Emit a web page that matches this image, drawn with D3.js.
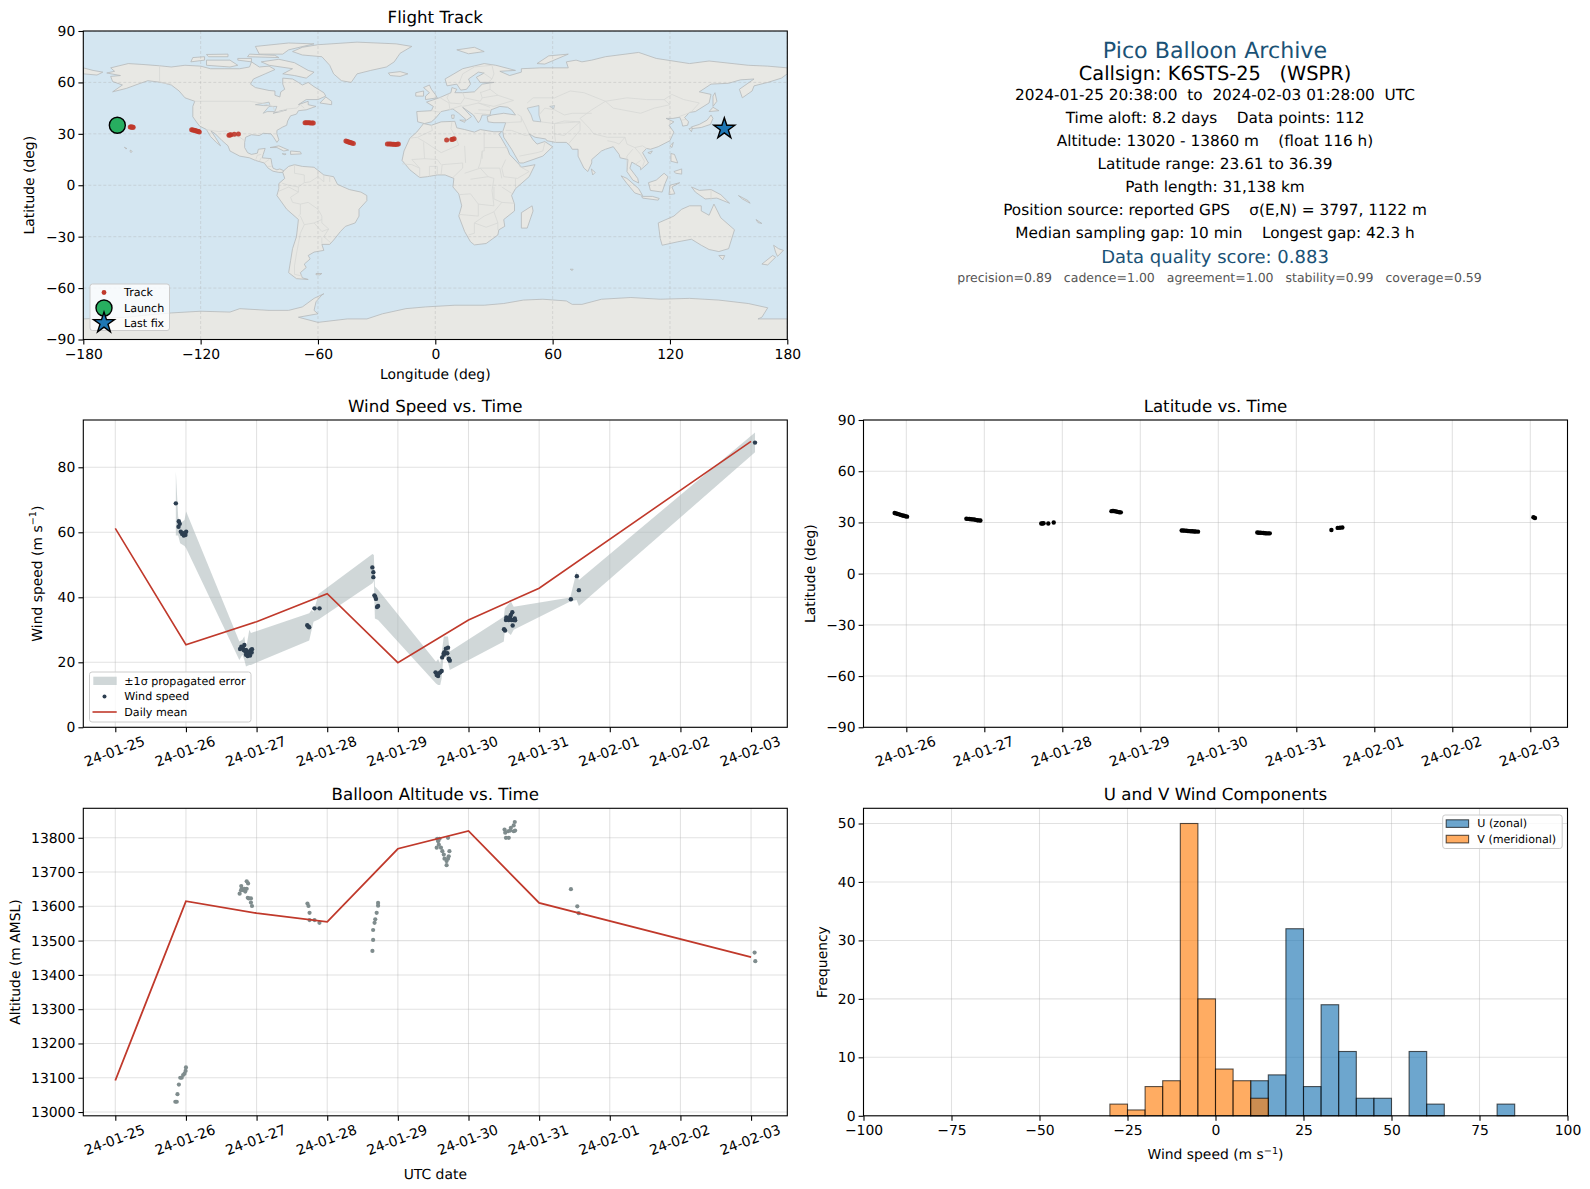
<!DOCTYPE html>
<html><head><meta charset="utf-8">
<script src="https://cdn.jsdelivr.net/npm/d3@7"></script>
<style>
html,body{margin:0;padding:0;background:#fff}
svg{display:block}
text{font-family:"DejaVu Sans",sans-serif;fill:#000;text-rendering:geometricPrecision}
</style></head><body><svg id="c" width="1590" height="1189"></svg>
<script>
// ---------- tick labels ----------
const dateLabels=["24-01-25","24-01-26","24-01-27","24-01-28","24-01-29","24-01-30","24-01-31","24-02-01","24-02-02","24-02-03"];
const dateTickDays=[0,1,2,3,4,5,6,7,8,9];
const lonTicks=[-180,-120,-60,0,60,120,180];
const latTicks=[-90,-60,-30,0,30,60,90];
// ---------- map outlines (lon,lat) ----------
const land=[
[[-168,65.5],[-164,66.5],[-166,68.5],[-157,71],[-150,70.5],[-141,69.7],[-135,69],[-128,70],[-120,69.5],[-115,68],[-108,68],[-100,68],[-95,69],[-94,72],[-90,69],[-85,69.5],[-82,67.5],[-87,65],[-93,62],[-94.5,59],[-92,57],[-85,55.3],[-82,55],[-82,52.5],[-79.5,51.5],[-79,54.5],[-77,56],[-78,59],[-78,62.5],[-73,62],[-70,60],[-68,58.5],[-65,60],[-62,57.5],[-57,54],[-56,52],[-60,50],[-66,50],[-70,47],[-65,49],[-65,47],[-61,46],[-66,44],[-70,43.5],[-71,41.5],[-74,40.5],[-75.5,37.5],[-76,35],[-78,34],[-81,32],[-81,30],[-80,26.5],[-81,25],[-82.7,28],[-84,30],[-88,30.3],[-90,29],[-94,29.5],[-97,28],[-97.5,25],[-97.5,22],[-96,19],[-94,18],[-91,18.7],[-90.5,21],[-87,21.5],[-88,18],[-88.5,16],[-84,15.5],[-83.5,12],[-83,10],[-81,9],[-79.5,9.5],[-77.5,8.5],[-78,7.5],[-80,7.5],[-83,8.2],[-85.5,10],[-87.5,13],[-92,14.5],[-95,16],[-100,17],[-105,20],[-106,23],[-109,26],[-112.5,30],[-114.7,31.7],[-112.5,28],[-109.8,23],[-112,25],[-115,28.5],[-117,32.5],[-120.5,34.5],[-122.5,37.5],[-124,40],[-124,46],[-123,49],[-128,51],[-131,55],[-135,58.5],[-140,60],[-147,61],[-152,59],[-158,56.5],[-165,54.5],[-160,58.5],[-165,60.5],[-166,63.5],[-161,64],[-168,65.5]],
[[-73,78],[-68,80.5],[-60,82],[-40,83.5],[-20,82.5],[-12,81],[-18,77],[-21,72],[-25,69],[-33,67],[-40,65],[-43,60],[-48,61],[-52,65],[-54,70],[-58,75],[-68,76]],
[[-80,73.5],[-72,71.5],[-65,67],[-62,66],[-66,62.5],[-72,64],[-78,65],[-73,68],[-85,70],[-89,72]],
[[-117,70],[-105,69],[-101,70],[-105,73],[-117,73]],
[[-125,72],[-118,73],[-118,75],[-124,74.5]],
[[-90,76.5],[-78,76.5],[-75,79],[-62,82.5],[-75,83],[-92,81]],
[[-96,75],[-80,74.5],[-82,75.8],[-95,76.5]],
[[-116,75],[-106,75],[-106,76.5],[-117,76.3]],
[[-101,73],[-94,72],[-94,74],[-101,74]],
[[-59,48],[-53,47],[-53,49],[-56,51.5]],
[[-84.5,22],[-80,23],[-75,20.5],[-77.5,20],[-81,22]],
[[-74,20],[-69,19.5],[-68.5,18.3],[-74,18]],
[[-78.3,18.4],[-76.3,18.2],[-77,17.8]],
[[-156,20.5],[-155,19.8],[-155.6,19],[-156,19.5]],
[[-159,22.2],[-157.7,21.4],[-158.3,21.3]],
[[-77.5,8.5],[-75,11],[-72,12],[-68,11],[-62,10.5],[-57,6],[-52,5],[-50,0.5],[-44,-2.5],[-38,-4],[-35,-6],[-35,-9],[-39,-14],[-39,-18],[-41,-22],[-46,-24],[-48.5,-27],[-52,-32],[-54,-34.5],[-58,-34.5],[-57,-38],[-62,-39],[-65,-41],[-64,-43],[-67,-46],[-66,-48],[-69,-51],[-68,-54],[-65,-55],[-71,-54.5],[-75,-51],[-74,-44],[-73,-37],[-71,-30],[-70,-20],[-76,-14],[-81,-6],[-80,-2],[-80,1],[-77,4],[-78,7.5]],
[[-61,-51.5],[-58,-51.5],[-59,-52.3],[-61,-52.2]],
[[-6,36],[-2,35],[3,37],[10,37.3],[11,33.5],[15,32.5],[20,31],[23,32.5],[30,31.2],[34,31.3],[32.5,29.8],[34,27],[37,21],[38,18],[43,12],[44,10.5],[51,12],[48,5],[41,-2],[39,-6],[40.5,-11],[40.5,-15],[35,-20],[35.5,-24],[32.5,-26],[32,-29],[26,-34],[20,-34.8],[18,-33],[15,-27],[12,-18],[13.5,-12],[12,-5],[9,-1],[9.5,4],[5,6],[1,6],[-4,5],[-8,4.5],[-13,9],[-17,14.5],[-16,20],[-13,27.5],[-9.5,31]],
[[44,-25],[47,-25],[50,-15],[49.5,-12],[44,-16]],
[[-9,37],[-9.5,43],[-2,43.5],[-1,46],[-4.5,48.5],[2,51],[8,54],[8.5,57],[11,56],[10,54],[14,54],[20,54.5],[24,59],[30,60],[23,60],[21,63],[25,65.5],[22,66],[17,62],[18,59],[16,56],[13,55.5],[11,59],[6,58],[5,62],[14,68],[25,71],[31,70],[41,67],[33,66.5],[38,64],[44,66],[44,68],[54,68.5],[68,68.5],[67,72],[72,73],[75,72],[80,73],[87,75],[104,77.5],[113,74],[130,71],[140,72.5],[160,70],[170,69.5],[180,68.5],[180,65],[177,62.5],[170,60],[163,58],[162,55],[157,51],[155.5,56],[163,62],[156,61.5],[150,59.5],[141,59],[135,54.5],[141,53],[140,48],[133,43],[130,42.5],[127.5,39.5],[129.5,37],[129,35],[126.5,34.5],[126,37],[125,39.7],[121.5,39],[118,39],[122,37],[119.5,35],[122,31],[120,26],[114,22.5],[110,21],[108,21.5],[106,19],[109,13],[105,9],[105,10.5],[100.5,13.5],[99.5,10],[103.5,4],[104,1.3],[101,3],[98,8],[98.5,15],[94.5,16],[94,18],[91,22.5],[87,21],[85,20],[80,15],[80,13],[78,8],[76,10],[73,17],[73,21],[70,21],[69,23],[67,25],[61.5,25],[57,26],[56.5,27],[51,28],[48,30],[50,26.5],[52,24],[56,25.5],[60,22.5],[55,17],[52.5,16],[45,13],[43,13],[39,21],[35,28],[34.5,31.3],[36,36.5],[30,36.5],[27,37],[26.5,40],[29,41],[35,42],[41,41],[39,44],[37,45.5],[33,46],[28.5,44],[28,41],[24,41],[23,38],[22,36.5],[19.5,41],[14,45.5],[18.5,40],[16,38],[12,42],[9,44.5],[3,43],[0,39],[-2,37],[-5.5,36]],
[[-180,68.5],[-175,67],[-170,66],[-173,64.3],[-180,65]],
[[-5,50],[1,51],[0,53],[-2,56],[-3,58.5],[-6,57],[-3,54],[-5,52]],
[[-10,52],[-6,52],[-6,55],[-10,54]],
[[-24,65.5],[-18,66.3],[-14,65],[-18,63.5],[-23,64]],
[[11,79],[20,80.5],[25,78],[17,76.7]],
[[52,71],[56,70.7],[68,76.5],[58,75.5]],
[[130.9,34],[135,35.5],[139,38],[141,41],[142,39],[140.7,35.5],[136,33.7],[131,33]],
[[140,43],[145,43.5],[142,45.5]],
[[129.7,33],[131.5,33.5],[131,31.2]],
[[142,46],[144,49],[143,54],[142,52]],
[[120,23],[121.7,25],[121,22]],
[[108.7,19],[111,20],[110,18.3]],
[[120.5,18.5],[122.3,18],[124,13],[120.5,14]],
[[122,8],[126,9.5],[126,6.5],[123,7]],
[[109,1.5],[113,3],[117,7],[119,5],[117.5,1],[116,-4],[110,-3]],
[[95,5.5],[98,4],[104,-2],[106,-6],[102,-4.5],[98,1]],
[[105.5,-6.5],[111,-6.5],[114.5,-7.7],[114,-8.7],[106,-7.5]],
[[119.5,-5.5],[120,0],[125,1.5],[121,-1],[122.5,-5]],
[[131,-1],[135,-3],[141,-2.5],[146,-5.5],[150.5,-10.5],[144,-7.5],[138,-8],[133,-4]],
[[114,-22],[122,-18],[126,-14],[130,-12],[136,-12],[136,-15],[140,-17.5],[142.5,-11],[146,-19],[153,-26],[150,-37],[145,-38.7],[140,-37.5],[136,-35],[131,-31.5],[124,-33],[116,-35],[115,-31]],
[[145,-41],[148,-41],[147,-43.5]],
[[173,-35],[175.5,-37],[178,-38],[175,-41.5],[174,-39]],
[[172.5,-41],[174,-42],[170,-46.5],[167,-46]],
[[79.8,9.5],[81.8,7.5],[80.5,6]],
[[12.5,38],[15.5,38],[15,36.7]],
[[8.3,41],[9.7,41],[9.5,39],[8.5,39]],
[[164,-20],[167,-22.3],[165,-21.8]],
[[155,-6],[160,-9],[161,-10.5],[157,-8]],
[[69,-49],[70.5,-49],[70,-49.8]],
[[-180,-90],[-180,-78],[-158,-77],[-150,-76],[-135,-74.5],[-120,-73.5],[-105,-74],[-100,-72],[-85,-73],[-75,-73],[-68,-71],[-62,-66],[-57,-63.3],[-58,-64],[-61,-68],[-62,-73],[-60,-75],[-70,-77],[-60,-80],[-45,-78],[-35,-78],[-27,-75],[-15,-72],[-5,-71],[10,-70],[25,-70],[35,-69],[45,-67],[55,-66.5],[67,-67.5],[70,-69.5],[75,-69.5],[85,-66.5],[100,-65.5],[115,-66.5],[130,-66],[145,-67],[160,-69],[170,-71.5],[167,-77],[165,-78],[180,-78],[180,-90]]
];
const lakes=[
[[47,45],[53,46.5],[53,41],[54,37],[50,37.5],[49,41]],
[[-92,47],[-85,48.5],[-84.5,46.5],[-88,46.5]],
[[-88,42],[-85,46],[-81,46],[-82,43],[-86,43]],
[[-83,42],[-79,43],[-76,44],[-79,43.5]],
[[58.5,46],[61,46.5],[60.5,44.5]]
];
const borders=[
[[-123,49],[-95,49],[-89,48],[-83,46],[-82,43],[-79,43],[-76,44.5],[-71,45],[-69,47],[-67,45]],
[[-141,69.7],[-141,60],[-135,59]],
[[-117,32.5],[-111,31.3],[-106.5,31.7],[-103,29],[-100,28],[-97.5,26]],
[[-92,14.5],[-91,17.5],[-89,18]],[[-89,16],[-90,14]],[[-87.5,13],[-85,15]],[[-85.5,11],[-83.7,11]],
[[-72,12],[-72,7],[-67,6],[-67,1.5]],
[[-60,5],[-64,2],[-67,1.5],[-70,-1],[-70,-4],[-74,-7],[-73,-10],[-69,-11],[-65,-10],[-60,-14],[-58,-18],[-58,-22],[-54.5,-25.5],[-57,-30],[-53.5,-33.5]],
[[-60,8],[-60,5],[-57,2],[-57,6]],[[-54,5.5],[-54,2]],
[[-80,-3.5],[-75,-1],[-70,-4]],[[-78.5,1.3],[-75,0],[-70,-1]],[[-69,-11],[-69,-17],[-70,-18]],
[[-69,-18],[-67,-23],[-69,-28],[-70,-34],[-71,-40],[-72,-47],[-72,-52],[-68,-53]],
[[-67,-23],[-62,-22],[-58,-20]],[[-62,-22],[-58,-27],[-54.5,-25.5]],[[-58,-34],[-58,-30.5]],
[[-2,35],[-1.5,32],[-9,28],[-13,27.5]],[[-8.7,27.5],[-5,25],[3,19],[12,23.5],[9.5,30],[8,33],[8.5,37]],
[[25,31.5],[25,20],[24,20],[24,15.5]],[[25,22],[37,22]],[[-12,15],[-5.5,15.5],[-6,25]],[[15,23],[15.5,13]],
[[24,20],[23,13],[22,10]],[[3,6.5],[3.5,12],[14,13],[14,10],[9,4.5]],[[15,7],[23,10],[27,5],[18,3.5]],
[[12,-5.5],[18,-5],[22,-11],[30,-12],[29,-3],[30,4],[27,5]],[[23,10],[33,10],[34,4]],
[[36,15],[34,10],[35,5],[42,4],[48,8],[43,11]],[[34,-1],[39,-4.7]],[[41,-1.5],[41,4]],[[30,-1],[30,-8],[34,-10],[40.5,-10.5]],
[[12,-17],[22,-18],[22,-11]],[[17,-29],[20,-28],[20,-22],[25,-18]],[[20,-22],[26,-24.5],[32,-22]],[[25,-18],[30,-15.5],[34,-10]],[[30,-15.5],[32,-22],[32,-26]],
[[-8,4.5],[-8,10],[-12,12],[-17,12.5]],[[-3,5],[-3,11],[1,11],[1,6]],[[-12,15],[-8,10]],[[3,12],[1,15],[-5.5,15.5]],
[[-2,43.5],[3,42.5]],[[7.5,44],[7,48],[2.5,51]],[[7,53.5],[6,51],[7.5,48],[13,47.5],[15,51],[14,54]],[[15,51],[23,49],[24,51],[23,54.5]],[[7,44],[13.5,46.5]],
[[13.5,46],[16.5,46.5],[22,48],[28,45.5]],[[22,44],[28.5,43.7]],[[20,42],[26,41.5]],[[22,48],[30,46],[40,49.5],[32,52.5],[24,51]],[[23,54],[28,56],[32,52.5]],[[28,56],[28,59.5]],
[[12,59],[14,65],[20,69],[29,70]],[[24,66],[29,62],[27.5,60.5]],[[29,70],[30,65],[29,62]],
[[47,48],[50,51],[61,51],[69,55],[76,54],[87,49]],[[87,49],[98,51],[108,50],[117,50]],[[87,49],[91,45],[105,42],[112,45],[120,47],[117,50]],[[117,50],[121,53],[127,50],[135,48],[131,43]],
[[87,49],[80,44],[74,39]],[[74,39],[79,33],[81,30],[88,28],[97,28],[98,24],[102,22],[106,23],[108,21.5]],[[124.5,40],[130.5,42.5]],[[126,38],[128.5,38.5]],
[[36,36.5],[44,37],[44,40],[42,41.5]],[[44,39.5],[46,35],[48,30]],[[61,36],[61,30],[61.5,25]],[[61,30],[66,29],[70,33],[74,37],[61,36]],[[68,24],[71,28],[74,32],[74,37]],
[[36,32],[39,32],[46,29],[48,29.5]],[[43,17],[52,19],[55,20],[56,25]],[[53,41],[56,45],[61,44],[66,41],[70,42],[80,42]],[[54,37],[61,36],[66,37.5],[74,37]],
[[94,24],[97,28]],[[98,10],[98,17],[101,21]],[[102,22],[105,18],[107,14],[106,11]],[[102,12],[105,14.5]],[[141,-2.5],[141,-9]],[[88,26],[92,25],[94,24]]
];
// ---------- flight track on the map ----------
const trackLon=[-156,-155.6,-155.2,-154.8,-154.5,-124.6,-124,-123.4,-122.8,-122.2,-121.6,-121,-120.7,-105.5,-105,-104.5,-102.8,-100.7,-66.6,-66,-65.2,-64.5,-63.8,-63,-62.4,-45.7,-45,-44.4,-43.8,-43.2,-42.6,-41.9,-24.5,-23.6,-22.8,-22,-21.2,-20.4,-19.6,-18.9,5.8,8.4,8.9,9.6];
const trackLat=[34,34,34,33.9,33.9,32.4,32.3,32.1,31.9,31.7,31.5,31.3,31.1,29.2,29.3,29.4,29.8,29.9,36.5,36.5,36.4,36.4,36.3,36.3,36.3,25.8,25.5,25.3,25.1,24.8,24.6,24.4,24.1,24,24,23.9,23.9,23.8,23.9,24,26.4,26.7,26.9,27.2];
const launchPoint=[-162.6,35];
const lastFixPoint=[147.8,33];
// ---------- wind panel ----------
const windDays=[0.857,0.899,0.913,0.895,0.927,0.946,0.97,0.993,1.003,0.965,1.766,1.784,1.803,1.827,1.817,1.841,1.85,1.874,1.897,1.921,1.935,1.874,1.907,1.85,1.93,2.717,2.731,2.745,2.82,2.891,3.639,3.653,3.653,3.668,3.68,3.69,3.72,3.705,4.534,4.557,4.57,4.58,4.6,4.62,4.55,4.627,4.65,4.66,4.68,4.71,4.665,4.7,4.65,4.72,4.735,4.725,5.503,5.517,5.53,5.536,5.57,5.59,5.62,5.6,5.635,5.66,5.625,5.655,5.58,5.61,6.449,6.534,6.563,9.056];
const windSpeed=[68.9,63.4,62.6,61.7,60.2,59.5,59,59.2,60.2,59.7,24.1,24.8,24.6,25.3,23.8,23.3,22.3,21.9,22.8,23.8,24,23.3,22.1,23.8,23,31.4,31,30.8,36.6,36.6,49.2,47.7,46.2,40.6,40.2,39.5,37.3,37,16.9,16.4,15.8,16.6,16.9,17.3,16.1,21.5,22.3,23.1,24.2,24.5,22.8,22.8,22.8,21.1,20.5,20.9,30.2,29.8,33,33.8,33,34,35.4,34.6,33,32.9,31.3,33.5,33.5,33,39.4,46.5,42.2,87.6];
const bandDays=[0.857,0.89,0.918,0.98,1.003,1.756,1.8,1.827,1.85,1.897,1.92,2.745,2.78,2.806,2.877,3.64,3.66,3.675,3.72,4.54,4.57,4.6,4.62,4.65,4.71,4.735,5.5,5.515,5.6,5.64,6.44,6.53,6.563,9.056];
const bandLow=[59,59,56.6,55.8,55.1,20.7,22.3,20.7,18.7,19.2,19.2,26.7,30,32.5,33.2,44.3,45,33.5,33,13.5,13,13,15,22.8,20,17.6,26.4,30,28.4,30,38.7,39.2,37.3,84.6];
const bandHigh=[78.7,64.8,62.8,63.8,66.4,26.4,26.9,28,24,30,29,35.1,36.1,35.5,41,53.3,53,43.3,42.3,20.2,21,19.5,22.8,27.9,27.9,23.3,34,36.6,38.7,37.1,39.9,47.9,45.3,90.7];
const windMeanDays=[0,1,2,3,4,5,6,9];
const windMean=[61.2,25.4,32.5,41.1,19.9,33,42.8,88];
// ---------- latitude panel ----------
const latDays=[0.85,0.87,0.89,0.91,0.93,0.95,0.97,0.99,1.01,1.77,1.79,1.81,1.83,1.85,1.87,1.89,1.91,1.93,1.95,2.73,2.745,2.76,2.82,2.89,3.63,3.65,3.67,3.69,3.71,3.73,3.75,4.53,4.55,4.57,4.59,4.61,4.63,4.65,4.67,4.69,4.71,4.74,5.5,5.52,5.54,5.56,5.58,5.6,5.62,5.64,5.66,6.45,6.53,6.56,6.59,9.04,9.06];
const latValues=[35.5,35.2,35,34.7,34.4,34.1,33.9,33.6,33.4,32.2,32.1,32,31.9,31.8,31.7,31.5,31.3,31.2,31.1,29.4,29.4,29.5,29.4,30,36.6,36.7,36.6,36.4,36.2,36,35.9,25.3,25.3,25.2,25.1,25,24.9,24.8,24.8,24.7,24.7,24.6,24.1,24,24,23.9,23.8,23.7,23.6,23.6,23.6,25.6,26.8,26.9,27,33,32.6];
// ---------- altitude panel ----------
const altDays=[0.85,0.87,0.88,0.9,0.92,0.94,0.96,0.98,1,0.995,1.76,1.783,1.79,1.81,1.84,1.86,1.86,1.88,1.78,1.83,1.875,1.89,1.92,1.92,1.935,2.72,2.735,2.75,2.75,2.82,2.89,3.72,3.72,3.7,3.68,3.67,3.65,3.65,3.64,4.557,4.57,4.59,4.55,4.58,4.61,4.63,4.65,4.66,4.73,4.72,4.71,4.69,4.69,4.71,5.51,5.52,5.53,5.57,5.56,5.59,5.64,5.655,5.64,5.66,5.6,6.45,6.54,6.56,9.05,9.06];
const altValues=[13030,13030,13052,13080,13100,13100,13108,13112,13130,13120,13637,13659,13651,13647,13643,13651,13673,13667,13647,13651,13625,13623,13623,13611,13601,13608,13601,13581,13560,13560,13552,13610,13602,13581,13562,13552,13531,13502,13470,13797,13790,13797,13771,13780,13771,13761,13751,13739,13761,13746,13739,13732,13720,13800,13824,13815,13800,13800,13819,13821,13819,13846,13836,13821,13829,13650,13600,13580,13465,13440];
const altMeanDays=[0,1,2,3,4,5,6,9];
const altMean=[13092,13615,13580,13555,13768,13820,13610,13452];
// ---------- histogram ----------
const uBinLeft=[10,15,20,25,30,35,40,45,55,60,80];
const uCounts=[6,7,32,5,19,11,3,3,11,2,2];
const vBinLeft=[-30,-25,-20,-15,-10,-5,0,5,10];
const vCounts=[2,1,5,6,50,20,8,6,3];
const binWidth=5;
// ---------- info text ----------
const infoLines=[
 ["Pico Balloon Archive",50.9,22.2,"#1a5276",1215],
 ["Callsign: K6STS-25   (WSPR)",73.2,19.4,"#000",1215],
 ["2024-01-25 20:38:00  to  2024-02-03 01:28:00  UTC",94.8,15.3,"#000",1215],
 ["Time aloft: 8.2 days    Data points: 112",117.8,15.3,"#000",1215],
 ["Altitude: 13020 - 13860 m    (float 116 h)",141,15.3,"#000",1215],
 ["Latitude range: 23.61 to 36.39",164,15.3,"#000",1215],
 ["Path length: 31,138 km",187.2,15.3,"#000",1215],
 ["Position source: reported GPS    σ(E,N) = 3797, 1122 m",210,15.3,"#000",1215],
 ["Median sampling gap: 10 min    Longest gap: 42.3 h",233,15.3,"#000",1215],
 ["Data quality score: 0.883",257.6,18,"#1a5276",1215],
 ["precision=0.89   cadence=1.00   agreement=1.00   stability=0.99   coverage=0.59",277.7,12.5,"#555",1219.5]
];
// ---------- layout ----------
const L=[83.3,787.3],R=[863.5,1567.5];
const rows=[[31,339.5],[420,727.3],[808.3,1115.8]];
const svg=d3.select("#c");
const GRID="#b0b0b0",GO=0.38;
const red="#c0392b",navy="#2c3e50",grey="#7f8c8d";

function frame(xr,yr,x,y,xTicks,yTicks,xFmt,yFmt,title,dashed){
  const g=svg.append("g");
  const grid=g.append("g");
  const op=dashed?0.5:GO, w=dashed?0.7:1.05;
  xTicks.forEach(t=>grid.append("line").attr("x1",x(t)).attr("x2",x(t)).attr("y1",yr[0]).attr("y2",yr[1]).attr("stroke",GRID).attr("stroke-opacity",op).attr("stroke-width",w).attr("stroke-dasharray",dashed?"3,2":null));
  yTicks.forEach(t=>grid.append("line").attr("x1",xr[0]).attr("x2",xr[1]).attr("y1",y(t)).attr("y2",y(t)).attr("stroke",GRID).attr("stroke-opacity",op).attr("stroke-width",w).attr("stroke-dasharray",dashed?"3,2":null));
  const top=svg.append("g").attr("class","top");
  top.append("rect").attr("x",xr[0]).attr("y",yr[0]).attr("width",xr[1]-xr[0]).attr("height",yr[1]-yr[0]).attr("fill","none").attr("stroke","#000").attr("stroke-width",1.1);
  const ax=top.append("g").attr("transform",`translate(0,${yr[1]})`).call(d3.axisBottom(x).tickValues(xTicks).tickFormat(xFmt).tickSize(4.9).tickSizeOuter(0));
  const ay=top.append("g").attr("transform",`translate(${xr[0]},0)`).call(d3.axisLeft(y).tickValues(yTicks).tickFormat(yFmt).tickSize(4.9).tickSizeOuter(0));
  [ax,ay].forEach(a=>{a.select(".domain").remove();a.selectAll("line").attr("stroke","#000").attr("stroke-width",1.1);a.selectAll("text").style("font-size","13.9px").style("font-family","'DejaVu Sans'");});
  ay.selectAll("text").attr("x",-8);
  ax.selectAll("text").attr("y",9.5);
  top.append("text").attr("x",(xr[0]+xr[1])/2).attr("y",yr[0]-8.3).attr("text-anchor","middle").style("font-size","16.67px").text(title);
  return {g,top,ax,ay};
}
function rotateDates(ax){
  ax.selectAll("text").attr("y",0).attr("dy",null).attr("text-anchor","middle").attr("dominant-baseline","central").attr("transform","translate(-1,24.8) rotate(-20)");
}
function ylab(xp,yr,parts){
  const t=svg.append("text").attr("transform",`translate(${xp},${(yr[0]+yr[1])/2}) rotate(-90)`).attr("text-anchor","middle").attr("dominant-baseline","central").style("font-size","13.9px");
  parts.forEach(p=>{t.append("tspan").text(p[0]).attr("dy",p[1]||null).style("font-size",p[2]||null);});
}
function xlab(xr,yp,parts){
  const t=svg.append("text").attr("x",(xr[0]+xr[1])/2).attr("y",yp).attr("text-anchor","middle").attr("dominant-baseline","central").style("font-size","13.9px");
  parts.forEach(p=>{t.append("tspan").text(p[0]).attr("dy",p[1]||null).style("font-size",p[2]||null);});
}
const minus=s=>String(s).replace("-","\u2212");
const unitParts=(a)=>[[a+" (m s"],["\u22121",-4.5,"9.7px"],[")",4.5]];

// ---------- MAP ----------
{
 const x=d3.scaleLinear([-180,180],L), y=d3.scaleLinear([-90,90],[rows[0][1],rows[0][0]]);
 const defs=svg.append("defs");
 defs.append("filter").attr("id","soft").append("feGaussianBlur").attr("stdDeviation",0.35);
 const clip=defs.append("clipPath").attr("id","mc"); clip.append("rect").attr("x",L[0]).attr("y",rows[0][0]).attr("width",L[1]-L[0]).attr("height",rows[0][1]-rows[0][0]);
 const bg=svg.append("g").attr("clip-path","url(#mc)");
 bg.append("rect").attr("x",L[0]).attr("y",rows[0][0]).attr("width",L[1]-L[0]).attr("height",rows[0][1]-rows[0][0]).attr("fill","#d4e6f1");
 const line=d3.line().x(d=>x(d[0])).y(d=>y(d[1]));
 const m=bg.append("g").attr("filter","url(#soft)");
 m.selectAll(".l").data(land).join("path").attr("d",d=>line(d)+"Z").attr("fill","#e8e8e4").attr("stroke","#b5b9ba").attr("stroke-width",0.8);
 m.selectAll(".k").data(lakes).join("path").attr("d",d=>line(d)+"Z").attr("fill","#d4e6f1").attr("stroke","#b5b9ba").attr("stroke-width",0.7);
 m.selectAll(".b").data(borders).join("path").attr("d",line).attr("fill","none").attr("stroke","#d7d8d5").attr("stroke-width",0.8);
 const f=frame(L,rows[0],x,y,lonTicks,latTicks,minus,minus,"Flight Track",true);
 bg.node().appendChild(f.g.node());
 f.top.raise();
 const over=svg.append("g");
 over.selectAll("circle.t").data(trackLon).join("circle").attr("cx",d=>x(d)).attr("cy",(d,i)=>y(trackLat[i])).attr("r",2.5).attr("fill",red).attr("fill-opacity",.9);
 over.append("circle").attr("cx",x(launchPoint[0])).attr("cy",y(launchPoint[1])).attr("r",8).attr("fill","#27ae60").attr("stroke","#000").attr("stroke-width",1.4);
 const star=d3.symbol(d3.symbolStar).size(136);
 over.append("path").attr("d",star()).attr("transform",`translate(${x(lastFixPoint[0])},${y(lastFixPoint[1])})`).attr("fill","#1f77b4").attr("stroke","#000").attr("stroke-width",1.4);
 f.top.raise();
 // legend
 const lg=svg.append("g");
 lg.append("rect").attr("x",90).attr("y",284).attr("width",79.5).attr("height",46.5).attr("rx",2.5).attr("fill","#fff").attr("fill-opacity",.8).attr("stroke","#ccc").attr("stroke-width",1);
 lg.append("circle").attr("cx",104).attr("cy",292.5).attr("r",2.4).attr("fill",red);
 lg.append("circle").attr("cx",104).attr("cy",308).attr("r",8).attr("fill","#27ae60").attr("stroke","#000").attr("stroke-width",1.4);
 lg.append("path").attr("d",star()).attr("transform","translate(104,323)").attr("fill","#1f77b4").attr("stroke","#000").attr("stroke-width",1.4);
 [["Track",292.5],["Launch",308.5],["Last fix",323.5]].forEach(r=>lg.append("text").attr("x",124).attr("y",r[1]).attr("dominant-baseline","central").style("font-size","11.1px").text(r[0]));
 xlab(L,375.4,[["Longitude (deg)"]]);
 ylab(29.5,rows[0],[["Latitude (deg)"]]);
}
// ---------- INFO ----------
infoLines.forEach(l=>svg.append("text").attr("x",l[4]).attr("y",l[1]).attr("text-anchor","middle").attr("dominant-baseline","central").attr("xml:space","preserve").style("white-space","pre").style("font-size",l[2]+"px").style("fill",l[3]).text(l[0]));
// ---------- WIND ----------
{
 const x=d3.scaleLinear([-0.453,9.513],L), y=d3.scaleLinear([0,94.55],[rows[1][1],rows[1][0]]);
 const f=frame(L,rows[1],x,y,dateTickDays,[0,20,40,60,80],(d,i)=>dateLabels[i],d=>d,"Wind Speed vs. Time");
 rotateDates(f.ax);
 const idx=d3.range(bandDays.length);
 f.g.append("path").attr("d",d3.area().x(i=>x(bandDays[i])).y0(i=>y(bandLow[i])).y1(i=>y(bandHigh[i]))(idx)).attr("fill","#aab7b8").attr("fill-opacity",.55);
 f.g.selectAll("circle").data(windDays).join("circle").attr("cx",d=>x(d)).attr("cy",(d,i)=>y(windSpeed[i])).attr("r",2.2).attr("fill",navy);
 f.g.append("path").attr("d",d3.line().x(i=>x(windMeanDays[i])).y(i=>y(windMean[i]))(d3.range(windMean.length))).attr("fill","none").attr("stroke",red).attr("stroke-width",1.6);
 const lg=f.top.append("g");
 lg.append("rect").attr("x",89.5).attr("y",672).attr("width",161.5).attr("height",50).attr("rx",2.5).attr("fill","#fff").attr("fill-opacity",.8).attr("stroke","#ccc");
 lg.append("rect").attr("x",93.3).attr("y",676.7).attr("width",23.4).attr("height",8.3).attr("fill","#aab7b8").attr("fill-opacity",.55);
 lg.append("circle").attr("cx",104.5).attr("cy",696.5).attr("r",2).attr("fill",navy);
 lg.append("line").attr("x1",92.5).attr("x2",116.7).attr("y1",712).attr("y2",712).attr("stroke",red).attr("stroke-width",1.6);
 [["\u00b11\u03c3 propagated error",681],["Wind speed",696.5],["Daily mean",712.3]].forEach(r=>lg.append("text").attr("x",124.3).attr("y",r[1]).attr("dominant-baseline","central").style("font-size","11.1px").text(r[0]));
 ylab(37.6,rows[1],unitParts("Wind speed"));
}
// ---------- LATITUDE ----------
{
 const x=d3.scaleLinear([0.451,9.477],R), y=d3.scaleLinear([-90,90],[rows[1][1],rows[1][0]]);
 const f=frame(R,rows[1],x,y,dateTickDays.slice(1),latTicks,(d,i)=>dateLabels[i+1],minus,"Latitude vs. Time");
 rotateDates(f.ax);
 f.g.selectAll("circle").data(latDays).join("circle").attr("cx",d=>x(d)).attr("cy",(d,i)=>y(latValues[i])).attr("r",2.2).attr("fill","#000");
 ylab(811,rows[1],[["Latitude (deg)"]]);
}
// ---------- ALTITUDE ----------
{
 const x=d3.scaleLinear([-0.453,9.513],L), y=d3.scaleLinear([12989,13886],[rows[2][1],rows[2][0]]);
 const f=frame(L,rows[2],x,y,dateTickDays,d3.range(13000,13801,100),(d,i)=>dateLabels[i],d=>d,"Balloon Altitude vs. Time");
 rotateDates(f.ax);
 f.g.selectAll("circle").data(altDays).join("circle").attr("cx",d=>x(d)).attr("cy",(d,i)=>y(altValues[i])).attr("r",2.1).attr("fill",grey);
 f.g.append("path").attr("d",d3.line().x(i=>x(altMeanDays[i])).y(i=>y(altMean[i]))(d3.range(altMean.length))).attr("fill","none").attr("stroke",red).attr("stroke-width",1.8);
 xlab(L,1175,[["UTC date"]]);
 ylab(16.3,rows[2],[["Altitude (m AMSL)"]]);
}
// ---------- HISTOGRAM ----------
{
 const x=d3.scaleLinear([-100,100],R), y=d3.scaleLinear([0,52.6],[rows[2][1],rows[2][0]]);
 const f=frame(R,rows[2],x,y,d3.range(-100,101,25),[0,10,20,30,40,50],minus,d=>d,"U and V Wind Components");
 const bars=(lefts,counts,col)=>f.g.append("g").selectAll("rect").data(lefts).join("rect").attr("x",d=>x(d)).attr("width",d=>x(d+binWidth)-x(d)).attr("y",(d,i)=>y(counts[i])).attr("height",(d,i)=>y(0)-y(counts[i])).attr("fill",col).attr("fill-opacity",.65).attr("stroke","#000").attr("stroke-opacity",.65).attr("stroke-width",1.1);
 bars(uBinLeft,uCounts,"#1f77b4");
 bars(vBinLeft,vCounts,"#ff7f0e");
 const lg=f.top.append("g");
 lg.append("rect").attr("x",1442.7).attr("y",815).attr("width",119.5).attr("height",33.5).attr("rx",2.5).attr("fill","#fff").attr("fill-opacity",.8).attr("stroke","#ccc");
 [["U (zonal)",823.5,"#1f77b4"],["V (meridional)",839,"#ff7f0e"]].forEach(r=>{
  lg.append("rect").attr("x",1446.2).attr("y",r[1]-3.7).attr("width",22.4).attr("height",7.6).attr("fill",r[2]).attr("fill-opacity",.65).attr("stroke","#000").attr("stroke-opacity",.65).attr("stroke-width",1.1);
  lg.append("text").attr("x",1477.3).attr("y",r[1]).attr("dominant-baseline","central").style("font-size","11.1px").text(r[0]);
 });
 xlab(R,1155,unitParts("Wind speed"));
 ylab(823,rows[2],[["Frequency"]]);
}
</script></body></html>
